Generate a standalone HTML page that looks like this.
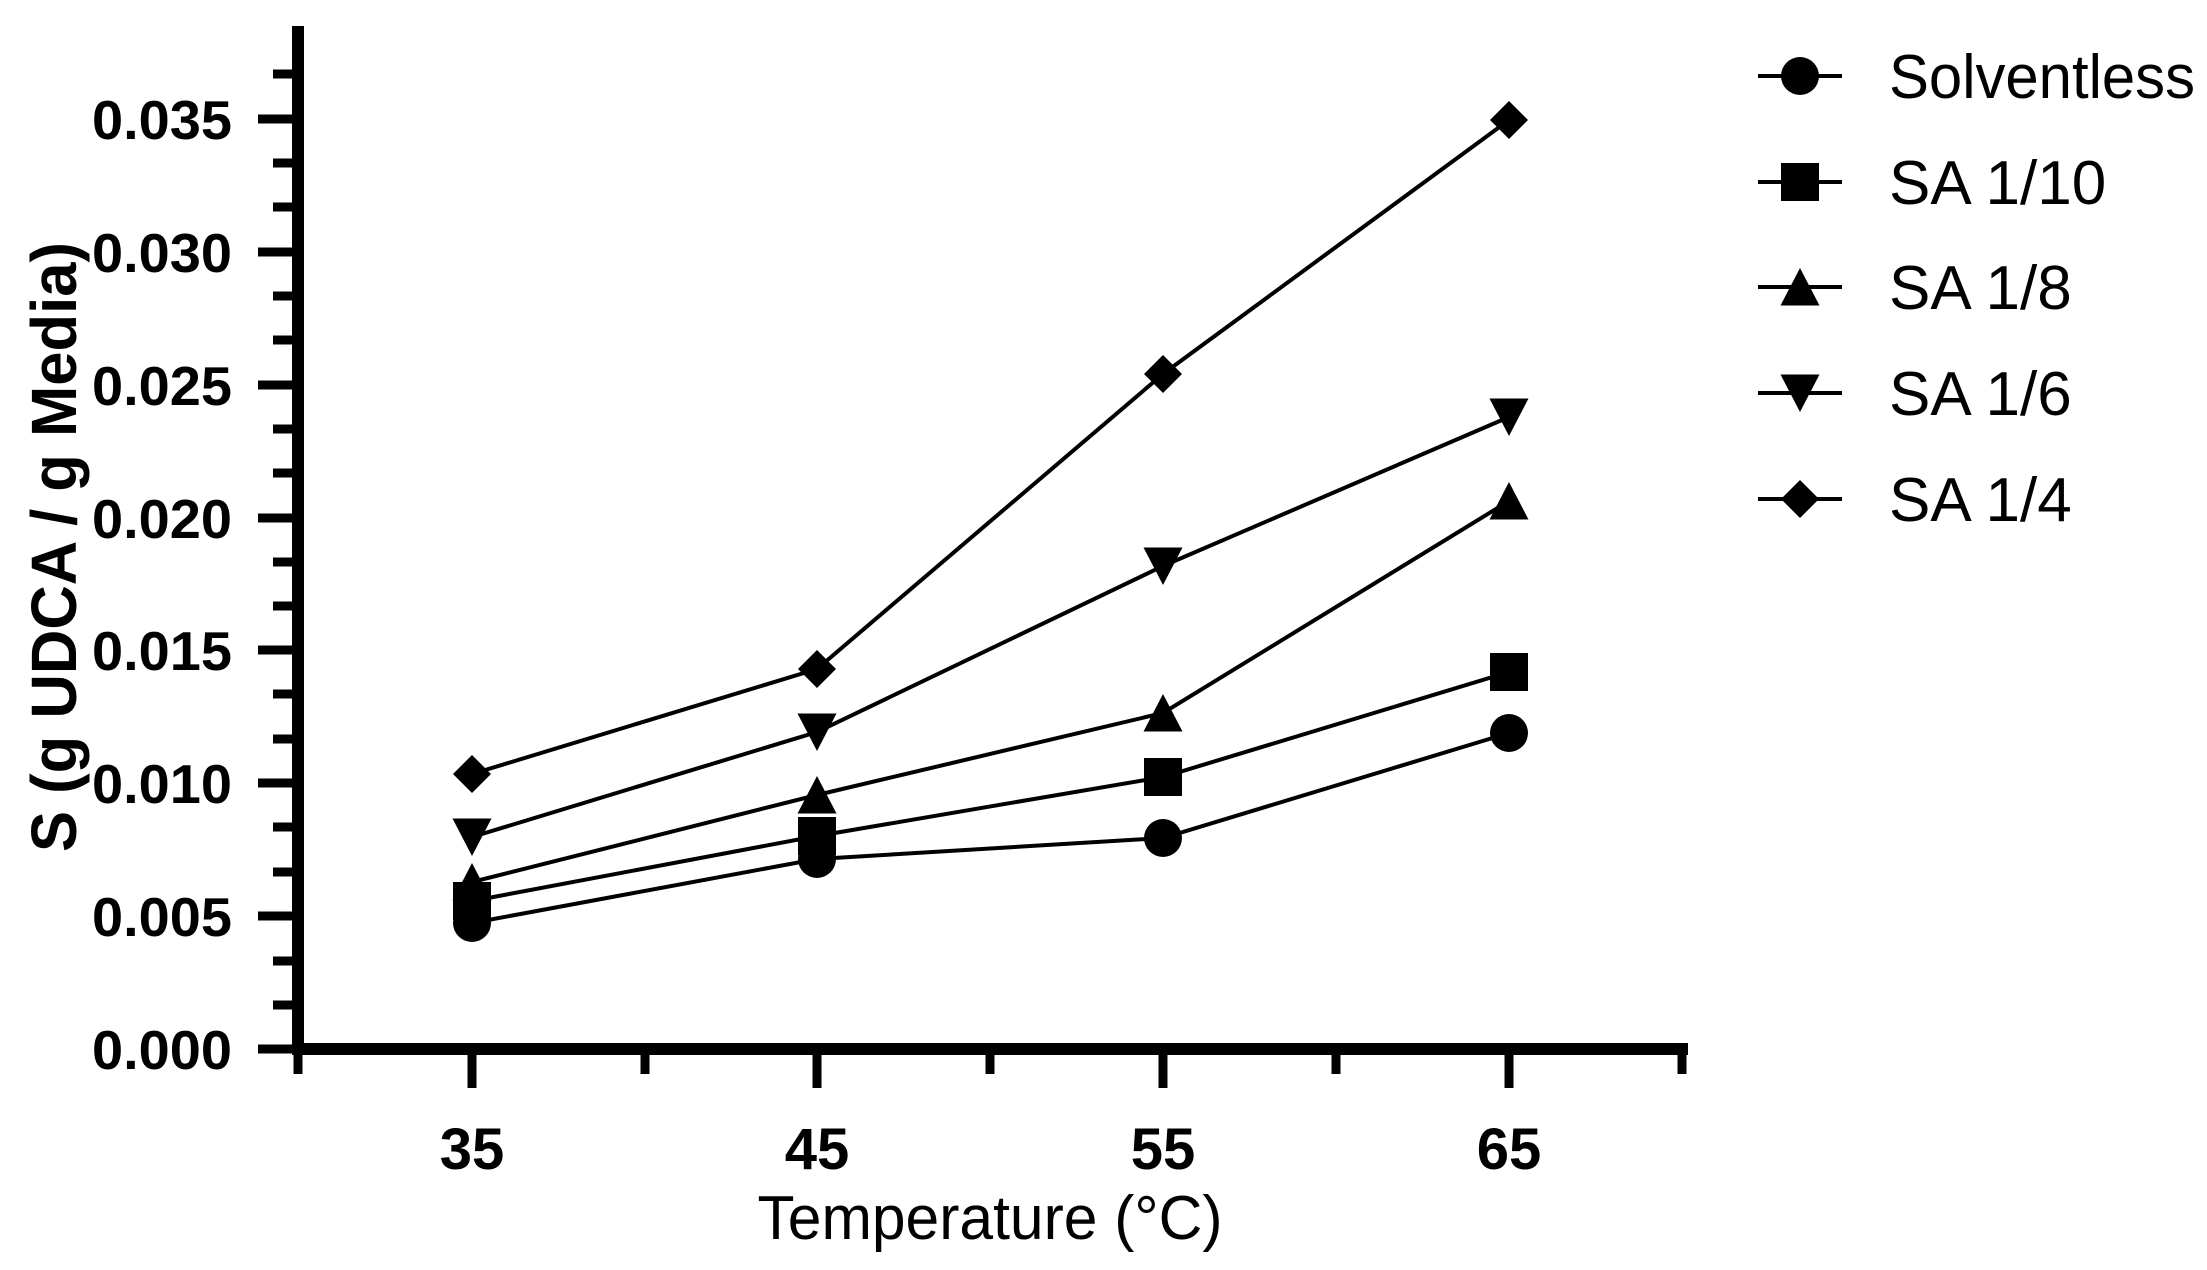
<!DOCTYPE html>
<html><head><meta charset="utf-8"><style>html,body{margin:0;padding:0;background:#fff}svg{display:block}</style></head>
<body>
<svg width="2207" height="1270" viewBox="0 0 2207 1270" xmlns="http://www.w3.org/2000/svg">
<defs>
<g id="mc"><circle cx="0" cy="0" r="19" fill="#000"/></g>
<g id="ms"><rect x="-19" y="-19" width="38" height="38" fill="#000"/></g>
<g id="mu"><polygon points="0,-19 19.5,18.5 -19.5,18.5" fill="#000"/></g>
<g id="md"><polygon points="0,19 19.5,-18.5 -19.5,-18.5" fill="#000"/></g>
<g id="mdi"><polygon points="0,-19 19,0 0,19 -19,0" fill="#000"/></g>
</defs>
<g stroke="#000" fill="none">
<line x1="298" y1="26" x2="298" y2="1055" stroke-width="12"/>
<line x1="292" y1="1049" x2="1688" y2="1049" stroke-width="12"/>
<g stroke-width="9">
<line x1="258" y1="1049" x2="298" y2="1049"/>
<line x1="258" y1="916" x2="298" y2="916"/>
<line x1="258" y1="783" x2="298" y2="783"/>
<line x1="258" y1="650" x2="298" y2="650"/>
<line x1="258" y1="518" x2="298" y2="518"/>
<line x1="258" y1="385" x2="298" y2="385"/>
<line x1="258" y1="252" x2="298" y2="252"/>
<line x1="258" y1="119" x2="298" y2="119"/>
<line x1="273" y1="1005" x2="298" y2="1005"/>
<line x1="273" y1="961" x2="298" y2="961"/>
<line x1="273" y1="872" x2="298" y2="872"/>
<line x1="273" y1="827" x2="298" y2="827"/>
<line x1="273" y1="739" x2="298" y2="739"/>
<line x1="273" y1="694" x2="298" y2="694"/>
<line x1="273" y1="606" x2="298" y2="606"/>
<line x1="273" y1="562" x2="298" y2="562"/>
<line x1="273" y1="473" x2="298" y2="473"/>
<line x1="273" y1="429" x2="298" y2="429"/>
<line x1="273" y1="340" x2="298" y2="340"/>
<line x1="273" y1="296" x2="298" y2="296"/>
<line x1="273" y1="207" x2="298" y2="207"/>
<line x1="273" y1="163" x2="298" y2="163"/>
<line x1="273" y1="74" x2="298" y2="74"/>
<line x1="298" y1="1049" x2="298" y2="1074"/>
<line x1="472" y1="1049" x2="472" y2="1088"/>
<line x1="645" y1="1049" x2="645" y2="1074"/>
<line x1="817" y1="1049" x2="817" y2="1088"/>
<line x1="990" y1="1049" x2="990" y2="1074"/>
<line x1="1163" y1="1049" x2="1163" y2="1088"/>
<line x1="1336" y1="1049" x2="1336" y2="1074"/>
<line x1="1509" y1="1049" x2="1509" y2="1088"/>
<line x1="1682" y1="1049" x2="1682" y2="1074"/>
</g>
</g>
<g font-family="Liberation Sans, Arial, sans-serif" font-weight="bold" font-size="55" fill="#000">
<text x="92" y="1069" textLength="140" lengthAdjust="spacingAndGlyphs">0.000</text>
<text x="92" y="936" textLength="140" lengthAdjust="spacingAndGlyphs">0.005</text>
<text x="92" y="803" textLength="140" lengthAdjust="spacingAndGlyphs">0.010</text>
<text x="92" y="670" textLength="140" lengthAdjust="spacingAndGlyphs">0.015</text>
<text x="92" y="538" textLength="140" lengthAdjust="spacingAndGlyphs">0.020</text>
<text x="92" y="405" textLength="140" lengthAdjust="spacingAndGlyphs">0.025</text>
<text x="92" y="272" textLength="140" lengthAdjust="spacingAndGlyphs">0.030</text>
<text x="92" y="139" textLength="140" lengthAdjust="spacingAndGlyphs">0.035</text>
<g font-size="58">
<text x="472" y="1169" text-anchor="middle">35</text>
<text x="817" y="1169" text-anchor="middle">45</text>
<text x="1163" y="1169" text-anchor="middle">55</text>
<text x="1509" y="1169" text-anchor="middle">65</text>
</g>
<text transform="translate(76,547) rotate(-90)" text-anchor="middle" font-size="64" textLength="610" lengthAdjust="spacingAndGlyphs">S (g UDCA / g Media)</text>
</g>
<text x="990" y="1239" text-anchor="middle" font-family="Liberation Sans, Arial, sans-serif" font-size="62" textLength="465" lengthAdjust="spacingAndGlyphs">Temperature (°C)</text>
<g stroke="#000" stroke-width="4" fill="none">
<polyline points="472,923 817,859 1163,838 1509,733"/>
<polyline points="472,901 817,836 1163,777 1509,672"/>
<polyline points="472,882 817,795 1163,713 1509,501"/>
<polyline points="472,837 817,732 1163,566 1509,417"/>
<polyline points="472,774 817,669 1163,374 1509,120"/>
</g>
<g>
<use href="#mc" x="472" y="923"/><use href="#mc" x="817" y="859"/><use href="#mc" x="1163" y="838"/><use href="#mc" x="1509" y="733"/>
<use href="#ms" x="472" y="901"/><use href="#ms" x="817" y="836"/><use href="#ms" x="1163" y="777"/><use href="#ms" x="1509" y="672"/>
<use href="#mu" x="472" y="882"/><use href="#mu" x="817" y="795"/><use href="#mu" x="1163" y="713"/><use href="#mu" x="1509" y="501"/>
<use href="#md" x="472" y="837"/><use href="#md" x="817" y="732"/><use href="#md" x="1163" y="566"/><use href="#md" x="1509" y="417"/>
<use href="#mdi" x="472" y="774"/><use href="#mdi" x="817" y="669"/><use href="#mdi" x="1163" y="374"/><use href="#mdi" x="1509" y="120"/>
</g>
<g stroke="#000" stroke-width="4">
<line x1="1758" y1="76" x2="1842" y2="76"/>
<line x1="1758" y1="182" x2="1842" y2="182"/>
<line x1="1758" y1="287" x2="1842" y2="287"/>
<line x1="1758" y1="393" x2="1842" y2="393"/>
<line x1="1758" y1="499" x2="1842" y2="499"/>
</g>
<use href="#mc" x="1800" y="76"/>
<use href="#ms" x="1800" y="182"/>
<use href="#mu" x="1800" y="287"/>
<use href="#md" x="1800" y="393"/>
<use href="#mdi" x="1800" y="499"/>
<g font-family="Liberation Sans, Arial, sans-serif" font-size="62" fill="#000">
<text x="1889" y="98" textLength="306" lengthAdjust="spacingAndGlyphs">Solventless</text>
<text x="1889" y="204">SA 1/10</text>
<text x="1889" y="309">SA 1/8</text>
<text x="1889" y="415">SA 1/6</text>
<text x="1889" y="521">SA 1/4</text>
</g>
</svg>
</body></html>
